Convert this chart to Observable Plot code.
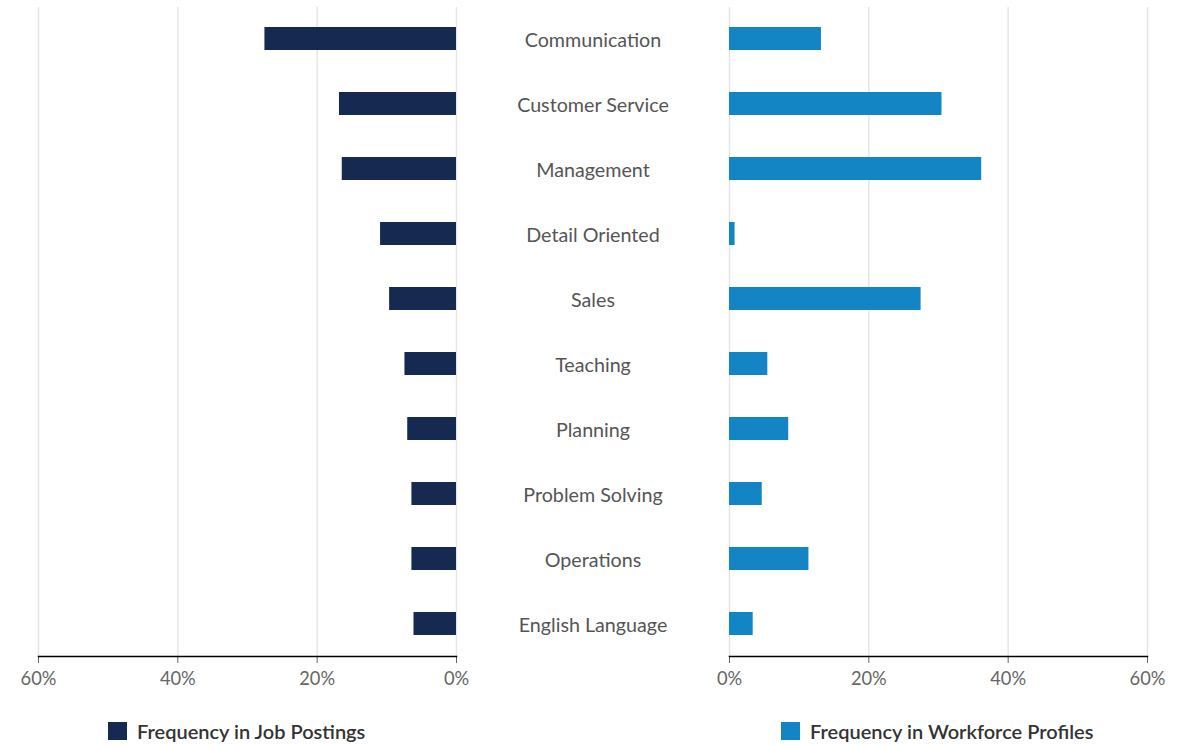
<!DOCTYPE html>
<html>
<head>
<meta charset="utf-8">
<script src="https://cdn.jsdelivr.net/npm/d3@7"></script>
<script src="https://cdn.jsdelivr.net/npm/@observablehq/plot@0.6"></script>
<style>
  html, body { margin: 0; padding: 0; background: #fff; }
  #chart { position: relative; width: 1194px; height: 745px; overflow: hidden; font-family: Lato, "Open Sans", sans-serif; }
  #chart > .panel { position: absolute; top: 0; }
  .legend { position: absolute; display: flex; align-items: center; font-family: Lato, sans-serif; font-size: 20px; font-weight: 600; color: #333; }
  .legend .sw { width: 19px; height: 18px; margin-right: 10px; }
</style>
</head>
<body>
<div id="chart"></div>
<script>
const skills = ["Communication", "Customer Service", "Management", "Detail Oriented", "Sales", "Teaching", "Planning", "Problem Solving", "Operations", "English Language"];
const jobPostings = [27.5, 16.8, 16.4, 10.9, 9.6, 7.4, 7.0, 6.4, 6.4, 6.1];
const workforceProfiles = [13.2, 30.5, 36.2, 0.8, 27.5, 5.5, 8.5, 4.7, 11.4, 3.4];
const tickValues = [0, 20, 40, 60];
const seriesNames = ["Frequency in Job Postings", "Frequency in Workforce Profiles"];
const seriesColors = ["#162950", "#1385C4"];

const rows = skills.map((s, i) => ({skill: s, jobs: jobPostings[i], workforce: workforceProfiles[i]}));

const H = 700, MT = 7, MB = 44;
const yScale = {domain: skills, paddingInner: 0.646, paddingOuter: 0.31, axis: null};
const common = {
  height: H, marginTop: MT, marginBottom: MB,
  style: {background: "transparent", fontFamily: "Lato, sans-serif", fontSize: "18.3px", color: "#666", overflow: "visible"}
};

const left = Plot.plot({
  ...common,
  width: 729, marginLeft: 38, marginRight: 273,
  x: {domain: [0, 60], reverse: true, ticks: tickValues, tickFormat: d => d + "%", label: null, tickSize: 7, tickPadding: 8},
  y: yScale,
  marks: [
    Plot.gridX(tickValues, {stroke: "#e6e6e6", strokeOpacity: 1, strokeWidth: 1.5}),
    Plot.barX(rows, {x: "jobs", y: "skill", fill: seriesColors[0]}),
    Plot.text(rows, {y: "skill", text: "skill", frameAnchor: "right", dx: 136.5, dy: 1.5, textAnchor: "middle", fill: "#555", fontSize: 19.7}),
    Plot.frame({anchor: "bottom", stroke: "#000", strokeWidth: 1.5})
  ]
});
left.classList.add("panel");
left.style.left = "0px";

const right = Plot.plot({
  ...common,
  width: 505, marginLeft: 40, marginRight: 47,
  x: {domain: [0, 60], ticks: tickValues, tickFormat: d => d + "%", label: null, tickSize: 7, tickPadding: 8},
  y: yScale,
  marks: [
    Plot.gridX(tickValues, {stroke: "#e6e6e6", strokeOpacity: 1, strokeWidth: 1.5}),
    Plot.barX(rows, {x: "workforce", y: "skill", fill: seriesColors[1]}),
    Plot.frame({anchor: "bottom", stroke: "#000", strokeWidth: 1.5})
  ]
});
right.classList.add("panel");
right.style.left = "689px";

const chart = document.getElementById("chart");
chart.appendChild(left);
chart.appendChild(right);

const legendPos = [{left: 108, top: 719}, {left: 781, top: 719}];
seriesNames.forEach((name, i) => {
  const d = document.createElement("div");
  d.className = "legend";
  d.style.left = legendPos[i].left + "px";
  d.style.top = legendPos[i].top + "px";
  d.innerHTML = `<span class="sw" style="background:${seriesColors[i]}"></span><span>${name}</span>`;
  chart.appendChild(d);
});
</script>
</body>
</html>
